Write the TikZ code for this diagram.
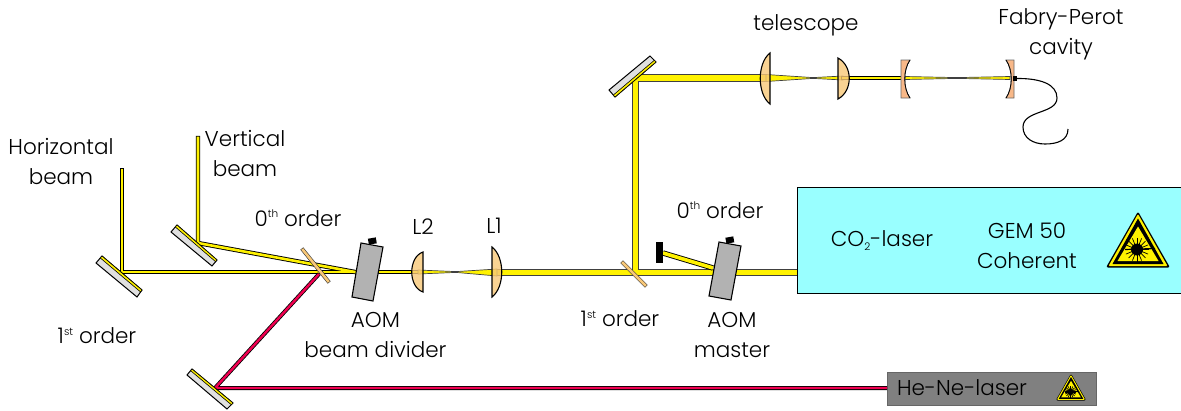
\documentclass[tikz,border=0pt]{standalone}
\usepackage{fontspec}
\setmainfont{Poppins Light}
\usepackage{tikz}
\usetikzlibrary{calc}
\definecolor{lenscol}{HTML}{F8C878}
\definecolor{cavcol}{HTML}{F8B888}
\definecolor{rubycol}{HTML}{F00050}
\definecolor{cocol}{HTML}{99FFFF}
\newcommand{\ordsup}[1]{\raisebox{8.5pt}{\fontsize{10.5}{11}\selectfont #1}}
\newcommand{\cosub}{\raisebox{-4pt}{\fontsize{10.5}{11}\selectfont 2}}
\tikzset{
  lbl/.style={font=\fontsize{21.5}{30}\selectfont,inner sep=0pt,align=center},
  thinbeam/.style={draw=black,line width=.9pt,double=yellow,double distance=2.6pt,line cap=rect,line join=miter},
  fatbeam/.style={draw=black!75,line width=.9pt,double=yellow,double distance=5.4pt,line join=miter},
  rubybeam/.style={draw=black,line width=.8pt,double=rubycol,double distance=2.4pt,line join=miter},
  taper/.style={fill=yellow,draw=black!75,line width=.7pt},
  mirrorbody/.style={fill=black!12,draw=black,line width=1pt},
  splitter/.style={draw=black!80,line width=.6pt,double=lenscol,double distance=2.6pt,line cap=rect},
  lensbody/.style={fill=lenscol,fill opacity=.8,draw=black,line width=1.1pt},
  aombody/.style={fill=black!30,draw=black,line width=1.1pt},
  lasersign/.pic={
    \fill[black,rounded corners=2pt] (0,-56)--(32,0)--(-32,0)--cycle;
    \fill[yellow,rounded corners=1pt] (0,-53.5)--(29.5,-1.5)--(-29.5,-1.5)--cycle;
    \fill[black] (0,-49)--(25.5,-3.5)--(-25.5,-3.5)--cycle;
    \fill[yellow] (0,-41)--(20.5,-6.5)--(-20.5,-6.5)--cycle;
    \fill[black] (-1,-18) circle (6);
    \foreach \a in {0,22.5,...,337.5} \draw[black,line width=.7pt] (-1,-18)--++(\a:12);
    \draw[black,line width=1.2pt] (-13,-18)--(17,-19);
  },
}
\begin{document}
\begin{tikzpicture}[x=1pt,y=-1pt]
  \useasboundingbox (0,0) rectangle (1181,410);
  % lasers
  \node[fill=cocol,draw=black,line width=1.2pt,minimum width=400pt,minimum height=106.5pt,anchor=north west,inner sep=0pt] (colaser) at (797,186.5) {};
  \node[fill=black!50,draw=black!60,line width=.8pt,minimum width=209pt,minimum height=33pt,anchor=north west,inner sep=0pt] (heneb) at (887,372) {};
  % beam points
  \coordinate (hend) at (122,170);
  \coordinate (hm) at (122,272);
  \coordinate (vend) at (198,138);
  \coordinate (vm) at (198,243);
  \coordinate (aoma) at (355,272);
  \coordinate (ltwo) at (418,272);
  \coordinate (lone) at (497,272.5);
  \coordinate (upm) at (635.5,78);
  \coordinate (tone) at (766,78);
  \coordinate (ttwo) at (843,78);
  \coordinate (cava) at (905,78);
  \coordinate (cavb) at (1010,78);
  \coordinate (rubs) at (319,274);
  \coordinate (rubm) at (215,388);
  % beams
  \draw[thinbeam] (hend)--(hm)--(ltwo);
  \draw[thinbeam] (vend)--(vm)--(aoma);
  \fill[yellow] (300,270.6) rectangle (352,273.4);
  \draw[fatbeam] (upm |- lone)--(upm)--(tone);
  \draw[fatbeam] (lone)--(colaser.west |- lone);
  \fill[yellow] (633,262) rectangle (638,274);
  \fill[taper] (418,270)--(456,271.6)--(497,269)--(497,276)--(456,272.4)--(418,274)--cycle;
  \fill[taper] (766,74.5)--(813,77.6)--(843,76)--(843,80)--(813,78.4)--(766,81.5)--cycle;
  \draw[thinbeam,line width=.5pt,double distance=2.2pt] (ttwo)--(cava);
  \fill[taper] (905,76.5)--(957,77.6)--(1010,76.5)--(1010,79.5)--(957,78.4)--(905,79.5)--cycle;
  \draw[rubybeam] (rubs)--(rubm)--(heneb.west |- rubm);
  % zeroth order side beam and dump
  \coordinate (dump) at (663,253);
  \coordinate (aomb) at (713,268);
  \draw[draw=black,line width=.9pt,double=yellow,double distance=3.6pt] (dump)--(aomb);
  \fill[black] (656,242) rectangle (663,263);
  % mirrors: four corners, face along the first two
  \foreach \ax/\ay/\bx/\by/\cx/\cy/\dx/\dy in {102/256/142/290/137/297/96/263,177/225/217/260/212/266/171/232,192/369/233/403/227/409/187/375,656/62/615/97/609/90/650/56}{
    \draw[mirrorbody] (\ax,\ay)--(\bx,\by)--(\cx,\cy)--(\dx,\dy)--cycle;
    \draw[draw=black,line width=.6pt,fill=yellow] (\ax,\ay)--(\bx,\by)--($(\bx,\by)!.28!(\cx,\cy)$)--($(\ax,\ay)!.28!(\dx,\dy)$)--cycle;
  }
  % beam splitters
  \draw[splitter] (303,250)--(328,281);
  \draw[splitter] (623,263)--(645,285);
  % AOMs
  \foreach \ax/\ay/\bx/\by/\cx/\cy/\dx/\dy/\px/\py in {361/243/383/247/373/301/352/297/372.5/242,719/242/741/246/731/300/709/296/730/241}{
    \draw[aombody] (\ax,\ay)--(\bx,\by)--(\cx,\cy)--(\dx,\dy)--cycle;
    \fill[black,rotate around={10:(\px,\py)}] (\px-4,\py-4) rectangle (\px+4,\py+2);
  }
  % lenses, curved side left or right
  \draw[lensbody] (423,252)..controls (408,257) and (408,287) ..(423,292)--cycle;
  \draw[lensbody] (492,247)..controls (505,257) and (505,287) ..(492,297)--cycle;
  \draw[lensbody] (770,53)..controls (757,63) and (757,94) ..(770,104)--cycle;
  \draw[lensbody] (838,58)..controls (853,66) and (853,91) ..(838,99)--cycle;
  % cavity mirrors
  \draw[fill=cavcol,draw=black!60,line width=.8pt] (901,60)--(910,60)..controls (903,70) and (903,88) ..(910,98)--(901,98)--cycle;
  \draw[fill=cavcol,draw=black!60,line width=.8pt] (1014,60)--(1006,60)..controls (1013,70) and (1013,88) ..(1006,98)--(1014,98)--cycle;
  \draw[black,line width=.8pt] (910,60)..controls (903,70) and (903,88) ..(910,98);
  \draw[black,line width=.8pt] (1006,60)..controls (1013,70) and (1013,88) ..(1006,98);
  % fibre
  \fill[black] (1013,76) rectangle (1017,81) coordinate[pos=.5] (fibre);
  \draw[black,line width=1.1pt] (fibre) ..controls (1040,78) and (1057,84) ..(1057,98)
    ..controls (1057,114) and (1023,110) ..(1023,127)
    ..controls (1023,138) and (1033,144) ..(1045,144)
    ..controls (1058,144) and (1068,140) ..(1068,129);
  % warning signs
  \pic at (1138,267.5) {lasersign};
  \pic[scale=.48] at (1071,400.5) {lasersign};
  % labels
  \node[lbl] (lhor) at (61,161) {Horizontal\\beam};
  \node[lbl] (lver) at (245,153) {Vertical\\beam};
  \node[lbl] (lzeroa) at (298,218) {0\ordsup{th} order};
  \node[lbl] (lfirsta) at (97,336) {1\ordsup{st} order};
  \node[lbl] (laoma) at (375.5,334.5) {AOM\\beam divider};
  \node[lbl] (ltwolbl) at (423,227) {L2};
  \node[lbl] (lonelbl) at (494,226) {L1};
  \node[lbl] (lfirstb) at (620,319) {1\ordsup{st} order};
  \node[lbl] (lzerob) at (720,210) {0\ordsup{th} order};
  \node[lbl] (laomb) at (732,335) {AOM\\master};
  \node[lbl] (ltele) at (806,25) {telescope};
  \node[lbl] (lfabry) at (1061,34) {Fabry-Perot\\cavity};
  \node[lbl] (lco) at (882,241) {CO\cosub-laser};
  \node[lbl] (lgem) at (1027,246) {GEM 50\\Coherent};
  \node[lbl] (lhene) at (962,388) {He-Ne-laser};
\end{tikzpicture}
\end{document}
